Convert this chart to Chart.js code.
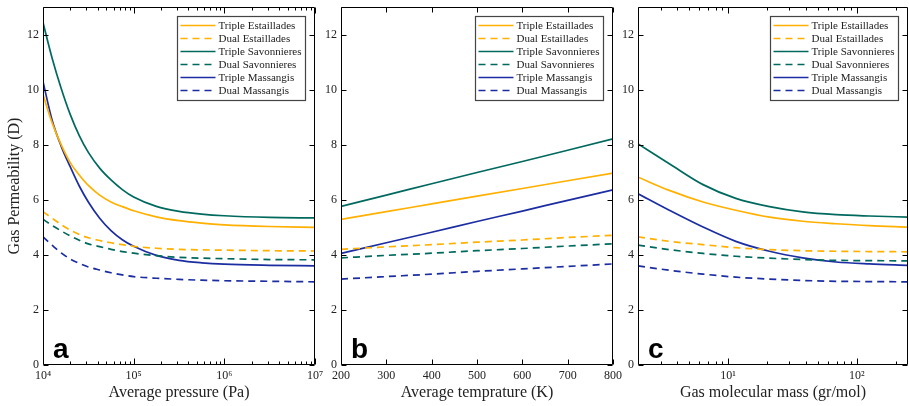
<!DOCTYPE html>
<html>
<head>
<meta charset="utf-8">
<script src="https://cdn.jsdelivr.net/npm/chart.js@4.4.1/dist/chart.umd.min.js"></script>
<style>
  html, body { margin: 0; padding: 0; background: #fff; }
  #wrap { position: relative; width: 909px; height: 406px; overflow: hidden; background: #fff; }
  canvas { position: absolute; top: 0; }
  #chartA { left: 0; }
  #chartB { left: 318px; }
  #chartC { left: 615px; }
</style>
</head>
<body>
<div id="wrap">
  <canvas id="chartA" width="330" height="406"></canvas>
  <canvas id="chartB" width="310" height="406"></canvas>
  <canvas id="chartC" width="294" height="406"></canvas>
</div>
<script>
// series order: Triple/Dual Estaillades, Triple/Dual Savonnieres, Triple/Dual Massangis
const seriesNames = ['Triple Estaillades', 'Dual Estaillades', 'Triple Savonnieres', 'Dual Savonnieres', 'Triple Massangis', 'Dual Massangis'];
const seriesColors = ['#FFB000', '#FFB000', '#00695E', '#00695E', '#1C2DA2', '#1C2DA2'];
const seriesDashed = [false, true, false, true, false, true];

// panel a - average pressure (Pa)
const pressure = [10000, 12589, 15849, 19953, 25119, 31623, 42170, 56234, 74989, 100000, 177828, 316228, 562341, 1000000, 3162278, 10000000];
const tripleEstA = [9.82, 8.80, 8.00, 7.35, 6.90, 6.52, 6.17, 5.92, 5.75, 5.60, 5.38, 5.24, 5.15, 5.09, 5.03, 5.00];
const dualEstA   = [5.57, 5.33, 5.10, 4.90, 4.74, 4.62, 4.52, 4.44, 4.37, 4.31, 4.24, 4.20, 4.18, 4.17, 4.15, 4.14];
const tripleSavA = [12.44, 11.15, 10.05, 9.10, 8.33, 7.72, 7.15, 6.72, 6.37, 6.10, 5.76, 5.58, 5.48, 5.42, 5.36, 5.34];
const dualSavA   = [5.29, 5.07, 4.87, 4.69, 4.53, 4.40, 4.30, 4.20, 4.12, 4.06, 3.97, 3.91, 3.88, 3.86, 3.83, 3.82];
const tripleMasA = [10.29, 8.90, 7.95, 7.20, 6.50, 5.92, 5.33, 4.88, 4.55, 4.31, 3.98, 3.80, 3.71, 3.66, 3.62, 3.60];
const dualMasA   = [4.65, 4.35, 4.07, 3.85, 3.69, 3.56, 3.45, 3.35, 3.27, 3.21, 3.15, 3.11, 3.08, 3.06, 3.04, 3.02];

// panel b - average temperature (K)
const temperature = [200, 300, 400, 500, 600, 700, 800];
const tripleEstB = [5.29, 5.57, 5.85, 6.13, 6.41, 6.69, 6.97];
const dualEstB   = [4.20, 4.29, 4.37, 4.46, 4.54, 4.63, 4.71];
const tripleSavB = [5.76, 6.17, 6.58, 6.99, 7.39, 7.80, 8.21];
const dualSavB   = [3.89, 3.98, 4.06, 4.15, 4.23, 4.32, 4.40];
const tripleMasB = [4.05, 4.44, 4.82, 5.21, 5.59, 5.98, 6.36];
const dualMasB   = [3.12, 3.21, 3.30, 3.40, 3.49, 3.58, 3.67];

// panel c - gas molecular mass (gr/mol)
const molarMass = [2, 3.5, 6.4, 11.5, 21, 38, 69, 125, 250];
const tripleEstC = [6.82, 6.34, 5.92, 5.62, 5.37, 5.22, 5.13, 5.06, 5.01];
const dualEstC   = [4.65, 4.49, 4.37, 4.26, 4.19, 4.15, 4.13, 4.12, 4.11];
const tripleSavC = [8.03, 7.31, 6.55, 6.05, 5.75, 5.56, 5.46, 5.41, 5.37];
const dualSavC   = [4.35, 4.19, 4.05, 3.95, 3.88, 3.83, 3.80, 3.79, 3.78];
const tripleMasC = [6.22, 5.62, 5.01, 4.49, 4.13, 3.89, 3.74, 3.67, 3.62];
const dualMasC   = [3.60, 3.44, 3.30, 3.19, 3.12, 3.07, 3.04, 3.03, 3.02];

const yTicksMax = 13;
const serif = '"Liberation Serif", "DejaVu Serif", serif';
const SUP = { '0': '⁰', '1': '¹', '2': '²', '3': '³', '4': '⁴', '5': '⁵', '6': '⁶', '7': '⁷', '8': '⁸', '9': '⁹' };

function powLabel(value) {
  const l = Math.log10(value);
  if (Math.abs(l - Math.round(l)) > 1e-6) return '';
  return '10' + String(Math.round(l)).split('').map(c => SUP[c]).join('');
}

function xTickMarks(scale) {
  if (scale.type !== 'logarithmic') return scale.ticks.map(t => [t.value, 5]);
  const out = [];
  const d0 = Math.floor(Math.log10(scale.min)), d1 = Math.ceil(Math.log10(scale.max));
  for (let d = d0; d <= d1; d++) {
    for (let m = 1; m <= 9; m++) {
      const v = m * Math.pow(10, d);
      if (v >= scale.min * 0.999 && v <= scale.max * 1.001) out.push([v, m === 1 ? 6 : 3]);
    }
  }
  return out;
}

// box with inward ticks on all four sides, legend, panel letter
const frameTicks = {
  id: 'frameTicks',
  afterDraw(chart, args, opts) {
    const { ctx, chartArea: a, scales } = chart;
    const x = scales.x, y = scales.y;
    const L = Math.round(a.left) + 0.5, R = Math.round(a.right) - 0.5;
    const T = Math.round(a.top) + 0.5, B = Math.round(a.bottom) - 0.5;
    ctx.save();
    ctx.strokeStyle = '#000';
    ctx.lineWidth = 1;
    ctx.beginPath();
    ctx.rect(L, T, R - L, B - T);
    xTickMarks(x).forEach(([v, len]) => {
      const px = Math.round(x.getPixelForValue(v)) + 0.5;
      ctx.moveTo(px, B); ctx.lineTo(px, B - len);
      ctx.moveTo(px, T); ctx.lineTo(px, T + len);
    });
    y.ticks.forEach(t => {
      const py = Math.round(y.getPixelForValue(t.value)) + 0.5;
      ctx.moveTo(L, py); ctx.lineTo(L + 5, py);
      ctx.moveTo(R, py); ctx.lineTo(R - 5, py);
    });
    ctx.stroke();

    // legend
    const w = 128, h = 84, rowH = 13;
    const bx = Math.round(a.right - 10 - w) + 0.5, by = Math.round(a.top + 9) + 0.5;
    ctx.fillStyle = '#fff';
    ctx.fillRect(bx, by, w, h);
    ctx.strokeStyle = '#444';
    ctx.lineWidth = 1.2;
    ctx.strokeRect(bx, by, w, h);
    ctx.font = '11px ' + serif;
    ctx.textBaseline = 'middle';
    chart.data.datasets.forEach((ds, i) => {
      const ry = by + 9 + i * rowH;
      ctx.strokeStyle = ds.borderColor;
      ctx.lineWidth = ds.borderWidth;
      ctx.setLineDash(ds.borderDash || []);
      ctx.beginPath();
      ctx.moveTo(bx + 3, ry); ctx.lineTo(bx + 38, ry);
      ctx.stroke();
      ctx.setLineDash([]);
      ctx.fillStyle = '#222';
      ctx.fillText(ds.label, bx + 41, ry + 0.5);
    });

    // panel letter
    ctx.font = 'bold 28px "Liberation Sans", Arial, sans-serif';
    ctx.fillStyle = '#000';
    ctx.textBaseline = 'alphabetic';
    ctx.fillText(opts.letter, a.left + 10, a.bottom - 7);
    ctx.restore();
  }
};

function makeDatasets(xs, cols) {
  return cols.map((vals, i) => ({
    label: seriesNames[i],
    data: xs.map((xv, j) => ({ x: xv, y: vals[j] })),
    borderColor: seriesColors[i],
    borderWidth: 1.7,
    borderDash: seriesDashed[i] ? [7, 5] : [],
    pointRadius: 0,
    fill: false,
    cubicInterpolationMode: 'monotone'
  }));
}

function makePanel(id, p) {
  const tickFont = { family: serif, size: 12 };
  const titleFont = { family: serif, size: 16 };
  return new Chart(document.getElementById(id), {
    type: 'line',
    data: { datasets: makeDatasets(p.xs, p.cols) },
    options: {
      responsive: false,
      animation: false,
      layout: { padding: { top: 7, right: p.padRight, left: 0, bottom: 0 } },
      plugins: {
        legend: { display: false },
        tooltip: { enabled: false },
        frameTicks: { letter: p.letter }
      },
      scales: {
        x: {
          type: p.xType,
          min: p.xMin,
          max: p.xMax,
          grid: { display: false, drawTicks: false },
          border: { display: false },
          ticks: {
            font: tickFont, color: '#222', padding: 4,
            autoSkip: false, maxRotation: 0, minRotation: 0,
            stepSize: p.xStep,
            callback: p.xType === 'logarithmic' ? (v) => powLabel(v) : (v) => String(v)
          },
          title: { display: true, text: p.xTitle, font: titleFont, color: '#222', padding: { top: 0, bottom: 4 } },
          afterFit(s) { s.height = 41; s.paddingLeft = 0; s.paddingRight = 0; }
        },
        y: {
          type: 'linear',
          min: 0,
          max: yTicksMax,
          grid: { display: false, drawTicks: false },
          border: { display: false },
          ticks: { font: tickFont, color: '#222', padding: 4, stepSize: 2, includeBounds: false },
          title: { display: !!p.yTitle, text: p.yTitle || '', font: titleFont, color: '#222', padding: { top: 5, bottom: 0 } },
          afterFit(s) { s.width = p.yWidth; s.paddingTop = 0; s.paddingBottom = 0; }
        }
      }
    },
    plugins: [frameTicks]
  });
}

makePanel('chartA', {
  xs: pressure,
  cols: [tripleEstA, dualEstA, tripleSavA, dualSavA, tripleMasA, dualMasA],
  xType: 'logarithmic', xMin: 10000, xMax: 10000000,
  xTitle: 'Average pressure (Pa)', yTitle: 'Gas Permeability (D)',
  yWidth: 43, padRight: 15, letter: 'a'
});

makePanel('chartB', {
  xs: temperature,
  cols: [tripleEstB, dualEstB, tripleSavB, dualSavB, tripleMasB, dualMasB],
  xType: 'linear', xMin: 200, xMax: 800, xStep: 100,
  xTitle: 'Average temprature (K)',
  yWidth: 23, padRight: 15, letter: 'b'
});

makePanel('chartC', {
  xs: molarMass,
  cols: [tripleEstC, dualEstC, tripleSavC, dualSavC, tripleMasC, dualMasC],
  xType: 'logarithmic', xMin: 2, xMax: 250,
  xTitle: 'Gas molecular mass (gr/mol)',
  yWidth: 23, padRight: 1, letter: 'c'
});
</script>
</body>
</html>
